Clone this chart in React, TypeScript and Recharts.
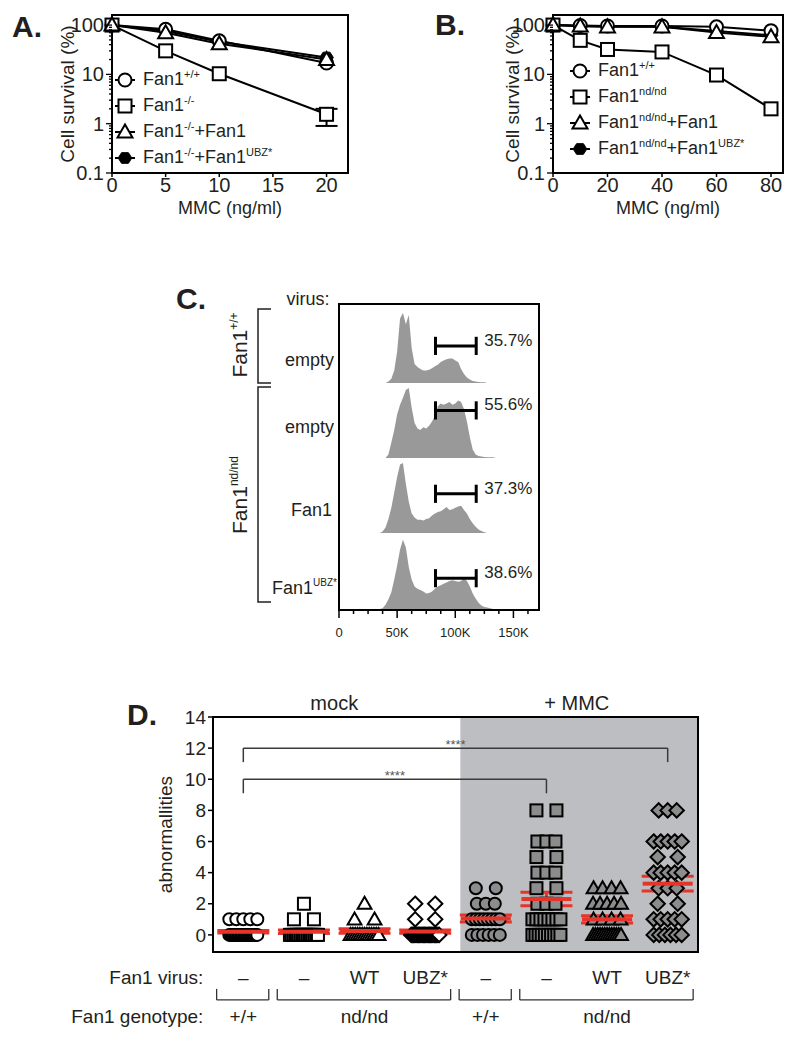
import React from 'react'
import {
  LineChart,
  Line,
  XAxis,
  YAxis,
  ReferenceArea,
  ReferenceLine,
  ReferenceDot,
  Legend,
  ErrorBar,
  ComposedChart,
  Area,
  ScatterChart,
  Scatter,
} from 'recharts'

const FONT = 'Arial, "Liberation Sans", Helvetica, sans-serif'
const INK = '#231f20'
const RED = '#e5352b'

// ---------- A: survival of Fan1-/- cells ----------
const doseA = [0, 5, 10, 20]
const survA_wt = [100, 82, 48, 17]
const survA_mut = [100, 30, 10.3, 1.55]
const survA_mutErr = [undefined, undefined, undefined, [0.65, 0.45]]
const survA_rescue = [100, 70, 42, 20]
const survA_ubz = [100, 76, 46, 22]
const legendA = ['Fan1^{+/+}', 'Fan1^{-/-}', 'Fan1^{-/-}+Fan1', 'Fan1^{-/-}+Fan1^{UBZ*}']

// ---------- B: survival of Fan1 nd/nd cells ----------
const doseB = [0, 10, 20, 40, 60, 80]
const survB_wt = [100, 98, 96, 96, 92, 77]
const survB_mut = [100, 49, 32, 28.5, 9.7, 2.0]
const survB_rescue = [100, 96, 92, 92, 71, 58]
const survB_ubz = [100, 95, 93, 92, 76, 62]
const legendB = ['Fan1^{+/+}', 'Fan1^{nd/nd}', 'Fan1^{nd/nd}+Fan1', 'Fan1^{nd/nd}+Fan1^{UBZ*}']

const decadeTicks = [0.1, 1, 10, 100]
const legendMarkers = ['circle', 'square', 'triangle', 'hexagon']
// draw order: hexagon underneath, triangle on top
const survivalSeries = [
  { key: 'ubz', marker: 'hexagon' },
  { key: 'wt', marker: 'circle' },
  { key: 'mut', marker: 'square' },
  { key: 'rescue', marker: 'triangle' },
]

// ---------- C: DNA content histograms ----------
const facsBinsK = [
  35, 37.5, 40, 42.5, 45, 47.5, 50, 52.5, 55, 57.5, 60, 62.5, 65, 67.5, 70, 72.5, 75, 77.5, 80, 82.5,
  85, 87.5, 90, 92.5, 95, 97.5, 100, 102.5, 105, 107.5, 110, 112.5, 115, 117.5, 120, 122.5, 125,
  127.5, 130, 132.5, 135,
]
const facsWtEmpty = [
  0, 0, 0, 2, 6, 18, 45, 92, 100, 84, 97, 50, 27, 23, 20, 18, 18, 19, 21, 24, 26, 30, 32, 34, 35,
  35, 32, 30, 20, 13, 8, 5, 3, 2, 1.5, 1, 1, 0, 0, 0, 0,
]
const facsNdEmpty = [
  0, 0, 0, 5, 22, 40, 62, 76, 86, 97, 100, 72, 50, 42, 40, 44, 42, 46, 52, 60, 74, 78, 76, 78, 80,
  76, 78, 82, 80, 70, 52, 30, 12, 5, 3, 2, 1.5, 1, 1, 1, 0,
]
const facsNdFan1 = [
  0, 2, 8, 20, 36, 58, 80, 98, 100, 70, 45, 28, 22, 19, 19, 18, 20, 21, 25, 28, 30, 31, 34, 37, 33,
  34, 36, 38, 39, 33, 28, 20, 14, 9, 5, 3, 1, 0, 0, 0, 0,
]
const facsNdUbz = [
  0, 1, 6, 14, 24, 42, 62, 85, 99, 88, 60, 42, 32, 29, 27, 25, 22, 23, 25, 29, 32, 34, 36, 38, 40,
  41, 40, 39, 40, 44, 40, 32, 22, 15, 9, 5, 3, 2, 1, 0, 0,
]
const facsRows = [facsWtEmpty, facsNdEmpty, facsNdFan1, facsNdUbz]
const gateFromK = 83
const gateToK = 118
const gateLevels = [53, 68, 56, 44]
const gateLabels = ['35.7%', '55.6%', '37.3%', '38.6%']
const facsMajorTicks = [0, 50000, 100000, 150000]
const facsTickLabels = ['0', '50K', '100K', '150K']

// ---------- D: chromosome abnormalities ----------
// counts of metaphases with 0, 1, 2, ... abnormalities per group
const scoreCounts = [
  [20, 5],
  [17, 2, 1],
  [13, 2, 1],
  [24, 2, 2],
  [6, 8, 3, 2],
  [10, 8, 3, 2, 3, 2, 3, 0, 2],
  [13, 4, 5, 4],
  [6, 5, 2, 3, 5, 2, 5, 0, 3],
]
const groupMarkers = ['circle', 'square', 'triangle', 'diamond', 'circle', 'square', 'triangle', 'diamond']
const virusLabels = ['–', '–', 'WT', 'UBZ*', '–', '–', 'WT', 'UBZ*']
const genotypeSpans = [
  { label: '+/+', from: 1, to: 1 },
  { label: 'nd/nd', from: 2, to: 4 },
  { label: '+/+', from: 5, to: 5 },
  { label: 'nd/nd', from: 6, to: 8 },
]
const sigBrackets = [
  { from: 1, to: 6, y: 10, drop: 0.9 },
  { from: 1, to: 8, y: 12, drop: 0.9 },
]
const dTicks = [0, 2, 4, 6, 8, 10, 12, 14]

function Marker({ kind, cx, cy, size = 6.5, fill = '#fff' }: any) {
  if (cx == null || cy == null) return null
  const s = size
  const common = { stroke: '#000', strokeWidth: 2, fill }
  if (kind === 'circle') return <circle cx={cx} cy={cy} r={s} {...common} />
  if (kind === 'square') return <rect x={cx - s} y={cy - s} width={2 * s} height={2 * s} {...common} />
  if (kind === 'triangle') {
    const t = s * 1.15
    return <polygon points={`${cx},${cy - t} ${cx + t},${cy + s * 0.85} ${cx - t},${cy + s * 0.85}`} {...common} />
  }
  if (kind === 'diamond') {
    const d = s * 1.2
    return <polygon points={`${cx},${cy - d} ${cx + d},${cy} ${cx},${cy + d} ${cx - d},${cy}`} {...common} />
  }
  // filled hexagon
  const pts = [0, 60, 120, 180, 240, 300]
    .map((a) => `${cx + s * 1.05 * Math.cos((a * Math.PI) / 180)},${cy + s * 0.95 * Math.sin((a * Math.PI) / 180)}`)
    .join(' ')
  return <polygon points={pts} fill="#000" stroke="#000" strokeWidth={1} />
}

function richLabel(s: string) {
  const parts = s.split(/\^\{([^}]*)\}/)
  return parts.map((p, i) =>
    i % 2 ? (
      <span key={i} style={{ fontSize: 11, position: 'relative', top: -7 }}>
        {p}
      </span>
    ) : (
      <span key={i}>{p}</span>
    )
  )
}

function SurvivalLegend({ labels }: { labels: string[] }) {
  return (
    <div style={{ fontFamily: FONT, color: INK, fontSize: 18 }}>
      {labels.map((lab, i) => (
        <div key={lab} style={{ display: 'flex', alignItems: 'center', height: 26 }}>
          <svg width={22} height={18} style={{ overflow: 'visible' }}>
            <line x1={1} x2={21} y1={9} y2={9} stroke="#000" strokeWidth={2} />
            <Marker kind={legendMarkers[i]} cx={11} cy={9} />
          </svg>
          <span style={{ marginLeft: 7, whiteSpace: 'nowrap', lineHeight: '18px' }}>{richLabel(lab)}</span>
        </div>
      ))}
    </div>
  )
}

const logTicks = decadeTicks
  .slice(0, -1)
  .flatMap((d) => [1, 2, 3, 4, 5, 6, 7, 8, 9].map((m) => d * m))
  .concat([100])

function LogTick({ x, y, payload }: any) {
  const major = decadeTicks.includes(payload.value)
  return (
    <g>
      <line x1={x} x2={x - (major ? 6 : 3)} y1={y} y2={y} stroke="#000" strokeWidth={1.3} />
      {major && (
        <text x={x - 8} y={y} dy="0.35em" textAnchor="end" fontSize={20} fill={INK}>
          {payload.value}
        </text>
      )}
    </g>
  )
}

function SurvivalChart({ data, xTicks, xMax, labels, width, marginLeft, axisWidth, legendLeft, legendTop }: any) {
  return (
    <LineChart
      width={width}
      height={220}
      data={data}
      margin={{ top: 15, right: 12, bottom: 0, left: marginLeft }}
    >
      <XAxis
        dataKey="dose"
        type="number"
        domain={[0, xMax]}
        ticks={xTicks}
        interval={0}
        height={47}
        axisLine={false}
        tickLine={{ stroke: '#000', strokeWidth: 1.5 }}
        tickSize={4}
        tickMargin={1}
        tick={{ fontSize: 20, fill: INK }}
        label={{ value: 'MMC (ng/ml)', position: 'insideBottom', offset: 6, fontSize: 18, fill: INK }}
      />
      <YAxis
        type="number"
        scale="log"
        domain={[0.1, 160]}
        allowDataOverflow
        ticks={logTicks}
        interval={0}
        width={axisWidth}
        axisLine={false}
        tickLine={false}
        tickSize={0}
        tickMargin={0}
        tick={<LogTick />}
        label={{ value: 'Cell survival (%)', angle: -90, position: 'center', fontSize: 19, fill: INK }}
      />
      <ReferenceArea x1={0} x2={xMax} fill="none" stroke="#000" strokeWidth={2} />
      {survivalSeries.map((s) => (
        <Line
          key={s.key}
          dataKey={s.key}
          stroke="#000"
          strokeWidth={2}
          isAnimationActive={false}
          activeDot={false}
          dot={(p: any) => <Marker key={`${s.key}-${p.index}`} kind={s.marker} cx={p.cx} cy={p.cy} />}
        >
          {s.key === 'mut' && (
            <ErrorBar dataKey="mutErr" width={11} stroke="#000" strokeWidth={2} isAnimationActive={false} />
          )}
        </Line>
      ))}
      <Legend
        layout="vertical"
        align="center"
        verticalAlign="middle"
        content={() => <SurvivalLegend labels={labels} />}
        wrapperStyle={{ left: legendLeft, top: legendTop, width: 'auto', height: 'auto' }}
      />
    </LineChart>
  )
}

// C: each histogram gets its own hidden y axis so the four sit stacked in one box
const C_PLOT_H = 306
const C_PX_PER_UNIT = 0.7
const rowBaselines = [79, 154, 229, 305]
const rowDomains = rowBaselines.map((b) => [b / C_PX_PER_UNIT - C_PLOT_H / C_PX_PER_UNIT, b / C_PX_PER_UNIT])
const facsData = facsBinsK.map((k, i) => ({
  x: k * 1000,
  r0: facsRows[0][i],
  r1: facsRows[1][i],
  r2: facsRows[2][i],
  r3: facsRows[3][i],
}))
const facsAllTicks: number[] = []
for (let t = 0; t <= 162500; t += 12500) facsAllTicks.push(t)

function FacsTick({ x, y, payload }: any) {
  const i = facsMajorTicks.indexOf(payload.value)
  const major = i >= 0
  return (
    <g>
      <line x1={x} x2={x} y1={y} y2={y + (major ? 8 : 4)} stroke="#000" strokeWidth={1.5} />
      {major && (
        <text x={x} y={y + 27} textAnchor="middle" fontSize={13} fill={INK}>
          {facsTickLabels[i]}
        </text>
      )}
    </g>
  )
}

function FacsChart() {
  return (
    <ComposedChart width={220} height={346} data={facsData} margin={{ top: 10, right: 11, bottom: 0, left: 9 }}>
      <XAxis
        dataKey="x"
        type="number"
        domain={[0, 172000]}
        ticks={facsAllTicks}
        interval={0}
        height={30}
        axisLine={false}
        tickLine={false}
        tickSize={0}
        tickMargin={0}
        tick={<FacsTick />}
      />
      {rowDomains.map((d, k) => (
        <YAxis key={k} yAxisId={`r${k}`} type="number" domain={d} allowDataOverflow hide />
      ))}
      {rowDomains.map((_, k) => (
        <Area
          key={k}
          yAxisId={`r${k}`}
          dataKey={`r${k}`}
          type="linear"
          stroke="none"
          fill="#999999"
          fillOpacity={1}
          isAnimationActive={false}
          activeDot={false}
        />
      ))}
      {gateLevels.map((g, k) => (
        <React.Fragment key={k}>
          <ReferenceLine
            yAxisId={`r${k}`}
            segment={[{ x: gateFromK * 1000, y: g }, { x: gateToK * 1000, y: g }]}
            stroke="#000"
            strokeWidth={3}
          />
          <ReferenceLine
            yAxisId={`r${k}`}
            segment={[{ x: gateFromK * 1000, y: g - 13 }, { x: gateFromK * 1000, y: g + 13 }]}
            stroke="#000"
            strokeWidth={3}
          />
          <ReferenceLine
            yAxisId={`r${k}`}
            segment={[{ x: gateToK * 1000, y: g - 13 }, { x: gateToK * 1000, y: g + 13 }]}
            stroke="#000"
            strokeWidth={3}
          />
          <ReferenceDot
            yAxisId={`r${k}`}
            x={gateToK * 1000}
            y={g}
            r={0}
            ifOverflow="visible"
            shape={(p: any) => (
              <text x={p.cx + 8} y={p.cy} fontSize={17} fill={INK}>
                {gateLabels[k]}
              </text>
            )}
          />
        </React.Fragment>
      ))}
      <ReferenceArea yAxisId="r3" x1={0} x2={172000} fill="none" stroke="#000" strokeWidth={2} />
    </ComposedChart>
  )
}

function FacsSideLabels() {
  return (
    <svg width={140} height={340} style={{ position: 'absolute', left: 200, top: 280 }} fontFamily={FONT}>
      <g fill={INK} fontSize={18}>
        <text x={108} y={25} textAnchor="middle">virus:</text>
        <text x={134} y={86} textAnchor="end">empty</text>
        <text x={134} y={153} textAnchor="end">empty</text>
        <text x={132} y={236} textAnchor="end">Fan1</text>
        <text x={137} y={314} textAnchor="end">
          Fan1
          <tspan dy={-8} fontSize={10}>UBZ*</tspan>
        </text>
      </g>
      <path d="M71 29 H58 V103 H71" fill="none" stroke={INK} strokeWidth={1.5} />
      <path d="M71 107 H58 V322 H71" fill="none" stroke={INK} strokeWidth={1.5} />
      <text transform="translate(47,65) rotate(-90)" textAnchor="middle" fontSize={21} fill={INK}>
        Fan1<tspan dy={-9} fontSize={12}>+/+</tspan>
      </text>
      <text transform="translate(47,215) rotate(-90)" textAnchor="middle" fontSize={21} fill={INK}>
        Fan1<tspan dy={-9} fontSize={12}>nd/nd</tspan>
      </text>
    </svg>
  )
}

// D: column scatter, points at the same score spread sideways
const D_UNIT_PX = 485 / 8
function spreadOffsets(n: number) {
  if (n <= 1) return [0]
  const w = n === 2 ? 20 : Math.min(28, 9 * (n - 1))
  return Array.from({ length: n }, (_, i) => -w / 2 + (w * i) / (n - 1))
}
const dPoints = scoreCounts.map((counts, gi) =>
  counts.flatMap((n, score) =>
    n === 0 ? [] : spreadOffsets(n).map((off) => ({ x: gi + 1 + off / D_UNIT_PX, y: score }))
  )
)
const dMeans = scoreCounts.map((counts, gi) => {
  const n = counts.reduce((a, b) => a + b, 0)
  const mean = counts.reduce((a, c, s) => a + c * s, 0) / n
  const sd = Math.sqrt(counts.reduce((a, c, s) => a + c * (s - mean) ** 2, 0) / (n - 1))
  return { x: gi + 1, y: mean, sem: sd / Math.sqrt(n) }
})

function DGroupTick({ x, y, payload }: any) {
  const idx = payload.value - 1
  const geno = genotypeSpans.find((g) => (g.from + g.to) / 2 === payload.value)
  return (
    <g fill={INK} fontSize={19}>
      <text x={x} y={y + 32} textAnchor="middle">
        {virusLabels[idx]}
      </text>
      {geno && (
        <text x={x} y={y + 71} textAnchor="middle">
          {geno.label}
        </text>
      )}
      {idx === 0 && (
        <>
          <text x={x - 40} y={y + 32} textAnchor="end">
            Fan1 virus:
          </text>
          <text x={x - 40} y={y + 71} textAnchor="end">
            Fan1 genotype:
          </text>
        </>
      )}
    </g>
  )
}

const bracketTop = -3.47
const bracketBottom = -4.18

function AbnormalityChart() {
  return (
    <ScatterChart width={670} height={349} margin={{ top: 27, right: 12, bottom: 0, left: 77 }}>
      <XAxis
        dataKey="x"
        type="number"
        domain={[0.5, 8.5]}
        allowDataOverflow
        ticks={[1, 2, 3, 4, 5, 6, 7, 8]}
        interval={0}
        height={87}
        axisLine={false}
        tickLine={false}
        tickSize={0}
        tickMargin={0}
        tick={<DGroupTick />}
      />
      <YAxis
        dataKey="y"
        type="number"
        domain={[-1.1, 14]}
        allowDataOverflow
        ticks={dTicks}
        interval={0}
        width={96}
        axisLine={false}
        tickLine={{ stroke: '#000', strokeWidth: 1.5 }}
        tickSize={5}
        tickMargin={2}
        tick={{ fontSize: 19, fill: INK }}
        label={{ value: 'abnormallities', angle: -90, position: 'center', fontSize: 19, fill: INK }}
      />
      <ReferenceArea x1={4.58} x2={8.5} fill="#bdbec1" fillOpacity={1} stroke="none" />
      <ReferenceDot
        x={2.5}
        y={14}
        r={0}
        ifOverflow="visible"
        shape={(p: any) => (
          <text x={p.cx} y={p.cy - 7} textAnchor="middle" fontSize={20} fill={INK}>
            mock
          </text>
        )}
      />
      <ReferenceDot
        x={6.5}
        y={14}
        r={0}
        ifOverflow="visible"
        shape={(p: any) => (
          <text x={p.cx} y={p.cy - 7} textAnchor="middle" fontSize={20} fill={INK}>
            + MMC
          </text>
        )}
      />
      {sigBrackets.map((b, i) => (
        <React.Fragment key={`sig${i}`}>
          <ReferenceLine segment={[{ x: b.from, y: b.y }, { x: b.to, y: b.y }]} stroke="#3a3a3a" strokeWidth={1.5} />
          <ReferenceLine segment={[{ x: b.from, y: b.y }, { x: b.from, y: b.y - b.drop }]} stroke="#3a3a3a" strokeWidth={1.5} />
          <ReferenceLine segment={[{ x: b.to, y: b.y }, { x: b.to, y: b.y - b.drop }]} stroke="#3a3a3a" strokeWidth={1.5} />
          <ReferenceDot
            x={(b.from + b.to) / 2}
            y={b.y}
            r={0}
            shape={(p: any) => (
              <text x={p.cx} y={p.cy + 1} textAnchor="middle" fontSize={13} fill="#555">
                ****
              </text>
            )}
          />
        </React.Fragment>
      ))}
      {genotypeSpans.map((g, i) => {
        const a = g.from - 0.44
        const b = g.to + 0.42
        return (
          <React.Fragment key={`geno${i}`}>
            <ReferenceLine ifOverflow="visible" segment={[{ x: a, y: bracketBottom }, { x: b, y: bracketBottom }]} stroke="#333" strokeWidth={1.3} />
            <ReferenceLine ifOverflow="visible" segment={[{ x: a, y: bracketBottom }, { x: a, y: bracketTop }]} stroke="#333" strokeWidth={1.3} />
            <ReferenceLine ifOverflow="visible" segment={[{ x: b, y: bracketBottom }, { x: b, y: bracketTop }]} stroke="#333" strokeWidth={1.3} />
          </React.Fragment>
        )
      })}
      {dPoints.map((pts, gi) => (
        <Scatter
          key={gi}
          data={pts}
          isAnimationActive={false}
          shape={(p: any) => (
            <Marker kind={groupMarkers[gi]} cx={p.cx} cy={p.cy} size={6} fill={gi < 4 ? '#fff' : '#8c8c8c'} />
          )}
        />
      ))}
      <Scatter
        data={dMeans}
        isAnimationActive={false}
        shape={(p: any) => <rect x={p.cx - 25} y={p.cy - 2} width={50} height={4} fill={RED} />}
      >
        <ErrorBar dataKey="sem" direction="y" width={26} stroke={RED} strokeWidth={3} isAnimationActive={false} />
      </Scatter>
      <ReferenceArea x1={0.5} x2={8.5} fill="none" stroke="#000" strokeWidth={2} />
    </ScatterChart>
  )
}

const tableA = doseA.map((d, i) => ({
  dose: d,
  wt: survA_wt[i],
  mut: survA_mut[i],
  mutErr: survA_mutErr[i],
  rescue: survA_rescue[i],
  ubz: survA_ubz[i],
}))
const tableB = doseB.map((d, i) => ({
  dose: d,
  wt: survB_wt[i],
  mut: survB_mut[i],
  rescue: survB_rescue[i],
  ubz: survB_ubz[i],
}))

const letterStyle: React.CSSProperties = {
  position: 'absolute',
  fontSize: 30,
  fontWeight: 'bold',
  lineHeight: 1,
  color: INK,
}

export default function App() {
  return (
    <div
      style={{
        position: 'absolute',
        left: 0,
        top: 0,
        width: 800,
        height: 1039,
        background: '#fff',
        fontFamily: FONT,
        overflow: 'hidden',
      }}
    >
      <div style={{ ...letterStyle, left: 12, top: 12 }}>A.</div>
      <div style={{ ...letterStyle, left: 435, top: 10 }}>B.</div>
      <div style={{ ...letterStyle, left: 176, top: 284 }}>C.</div>
      <div style={{ ...letterStyle, left: 127, top: 700 }}>D.</div>

      <div style={{ position: 'absolute', left: 0, top: 0 }}>
        <SurvivalChart
          data={tableA}
          xTicks={[0, 5, 10, 15, 20]}
          xMax={22}
          labels={legendA}
          width={360}
          marginLeft={22}
          axisWidth={90}
          legendLeft={114}
          legendTop={67}
        />
      </div>
      <div style={{ position: 'absolute', left: 440, top: 0 }}>
        <SurvivalChart
          data={tableB}
          xTicks={[0, 20, 40, 60, 80]}
          xMax={84.4}
          labels={legendB}
          width={355}
          marginLeft={31}
          axisWidth={82}
          legendLeft={129}
          legendTop={58}
        />
      </div>

      <FacsSideLabels />
      <div style={{ position: 'absolute', left: 330, top: 294 }}>
        <FacsChart />
      </div>

      <div style={{ position: 'absolute', left: 40, top: 690 }}>
        <AbnormalityChart />
      </div>
    </div>
  )
}
